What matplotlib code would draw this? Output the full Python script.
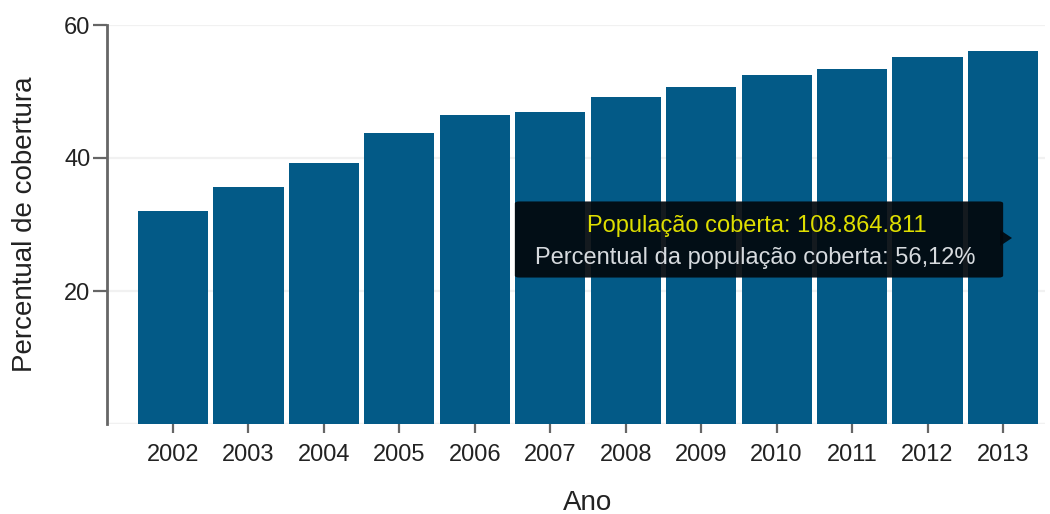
import matplotlib
matplotlib.use("Agg")
import matplotlib.pyplot as plt
from matplotlib.patches import FancyBboxPatch, Polygon

plt.rcParams['font.family'] = ['Liberation Sans', 'DejaVu Sans']

# data
anos = ['2002', '2003', '2004', '2005', '2006', '2007',
        '2008', '2009', '2010', '2011', '2012', '2013']
percentual = [32.0, 35.6, 39.2, 43.8, 46.5, 46.9,
              49.2, 50.7, 52.5, 53.4, 55.2, 56.12]
y_ticks = [20, 40, 60]
tooltip_pop = 'População coberta: 108.864.811'
tooltip_pct = 'Percentual da população coberta: 56,12%'

W, H = 1050, 514
fig = plt.figure(figsize=(W / 100, H / 100), dpi=100)
ax = fig.add_axes([107 / W, (H - 424) / H, 938 / W, 399 / H])

x = list(range(len(anos)))
ax.bar(x, percentual, width=0.93, color='#035a87', zorder=2)
ax.set_xlim(-0.875, 11.557)
ax.set_ylim(0, 60)

# light grid
ax.set_yticks(y_ticks)
ax.yaxis.grid(True, color='#f1f1f1', linewidth=1.6, zorder=0)
ax.axhline(0, color='#f1f1f1', linewidth=2.5, zorder=0)
ax.set_axisbelow(True)

for s in ['top', 'right', 'bottom']:
    ax.spines[s].set_visible(False)
ax.spines['left'].set_color('#666666')
ax.spines['left'].set_linewidth(2)
ax.spines['left'].set_zorder(3)

ax.set_xticks(x)
ax.set_xticklabels(anos)
ax.tick_params(axis='y', length=10, width=1.6, color='#666666',
               labelsize=17, pad=2, labelcolor='#222222')
ax.tick_params(axis='x', length=6.5, width=1.6, color='#666666',
               labelsize=17, pad=8, labelcolor='#222222')

ax.set_ylabel('Percentual de cobertura', fontsize=20, color='#222222', va='center')
ax.yaxis.set_label_coords((25 - 107) / 938, 0.5)
ax.set_xlabel('Ano', fontsize=20, color='#222222', va='center')
ax.xaxis.set_label_coords((588 - 107) / 938, (424 - 503) / 399)

# tooltip box (figure pixel coords -> fraction)
def fx(px):
    return px / W

def fy(py):
    return (H - py) / H

box = FancyBboxPatch((fx(518), fy(276)), fx(1000) - fx(518), fy(203) - fy(276),
                     boxstyle='round,pad=0.003,rounding_size=0.004',
                     transform=fig.transFigure, facecolor='#02080e',
                     edgecolor='none', alpha=0.93, zorder=5)
fig.patches.append(box)
arrow = Polygon([(fx(1000), fy(230)), (fx(1012), fy(238)), (fx(1000), fy(246))],
                closed=True, transform=fig.transFigure, facecolor='#02080e',
                edgecolor='none', alpha=0.93, zorder=5)
fig.patches.append(arrow)

fig.text(fx(757), fy(226), tooltip_pop, fontsize=17, color='#dede00',
         ha='center', va='center', zorder=6)
fig.text(fx(755), fy(258), tooltip_pct, fontsize=17, color='#d6dade',
         ha='center', va='center', zorder=6)

fig.savefig('out.png', dpi=100)
